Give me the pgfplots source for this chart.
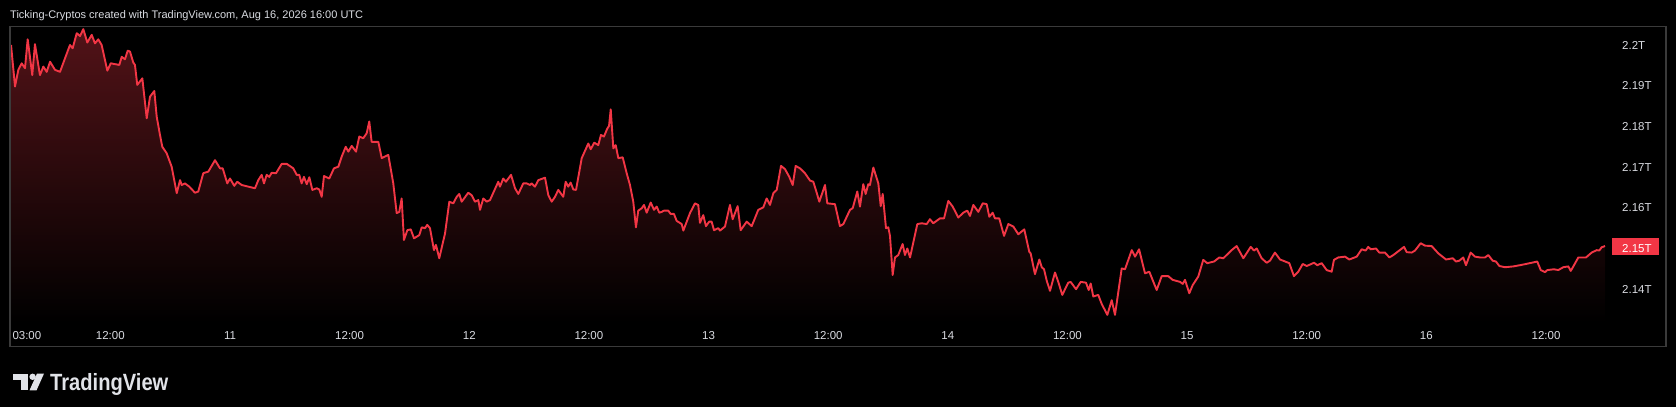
\documentclass[border=0pt]{standalone}
\usepackage{fontspec}
\setmainfont{Liberation Sans}
\usepackage{graphicx}
\usepackage{pgfplots}
\usepackage{pgfplotstable}
\pgfplotsset{compat=1.18}

\definecolor{tvred}{HTML}{F23645}
\definecolor{tvtext}{HTML}{DADCE2}
\definecolor{tvframe}{HTML}{3A3A3A}

% hours from Aug 10 00:00 UTC, market cap in T
\pgfplotstableread{
h v
2.04 2.2000
2.44 2.1898
2.77 2.1939
3.11 2.1955
3.44 2.1943
3.71 2.2014
4.17 2.1926
4.44 2.2002
4.94 2.1926
5.28 2.1947
5.62 2.1934
5.95 2.1959
6.45 2.1939
6.95 2.1934
7.45 2.1967
7.95 2.2000
8.22 2.1992
8.63 2.2029
8.96 2.2022
9.29 2.2039
9.69 2.2006
10.13 2.2025
10.46 2.2004
10.79 2.2014
11.13 2.2000
11.70 2.1937
12.04 2.1955
12.90 2.1951
13.14 2.1971
13.47 2.1965
13.74 2.1986
13.97 2.1984
14.30 2.1957
14.47 2.1951
14.70 2.1902
15.21 2.1918
15.65 2.1820
15.98 2.1873
16.41 2.1887
16.65 2.1824
16.98 2.1779
17.21 2.1750
17.65 2.1734
18.15 2.1701
18.66 2.1636
18.99 2.1668
19.16 2.1656
19.49 2.1660
19.92 2.1652
20.49 2.1637
20.82 2.1640
21.32 2.1685
21.83 2.1689
22.50 2.1717
23.00 2.1697
23.27 2.1697
23.73 2.1660
24.00 2.1672
24.43 2.1654
24.73 2.1664
25.18 2.1656
25.84 2.1652
26.51 2.1648
26.84 2.1668
27.18 2.1681
27.41 2.1660
27.68 2.1681
27.94 2.1676
28.18 2.1686
28.62 2.1685
29.19 2.1708
29.69 2.1708
30.35 2.1697
30.69 2.1681
30.95 2.1681
31.19 2.1660
31.42 2.1676
31.70 2.1658
31.96 2.1675
32.26 2.1644
32.70 2.1648
32.96 2.1645
33.20 2.1627
33.43 2.1678
33.96 2.1672
34.43 2.1697
34.87 2.1701
35.21 2.1726
35.61 2.1750
35.87 2.1738
36.21 2.1752
36.64 2.1738
36.97 2.1775
37.37 2.1771
37.71 2.1783
37.97 2.1812
38.21 2.1762
38.88 2.1762
39.22 2.1722
39.88 2.1730
40.38 2.1660
40.72 2.1587
40.98 2.1590
41.22 2.1623
41.45 2.1521
41.79 2.1545
42.13 2.1547
42.46 2.1525
42.99 2.1533
43.23 2.1552
43.56 2.1550
43.79 2.1558
44.06 2.1550
44.46 2.1496
44.66 2.1509
44.99 2.1476
45.57 2.1537
46.00 2.1615
46.40 2.1611
46.74 2.1627
47.00 2.1634
47.24 2.1615
47.90 2.1637
48.24 2.1631
48.57 2.1615
48.91 2.1619
49.08 2.1595
49.41 2.1623
49.75 2.1615
50.08 2.1619
50.91 2.1664
51.08 2.1652
51.41 2.1672
51.68 2.1664
52.19 2.1681
52.59 2.1648
52.92 2.1634
53.42 2.1660
53.76 2.1660
54.09 2.1656
54.26 2.1660
54.59 2.1652
54.93 2.1668
55.60 2.1674
55.93 2.1631
56.27 2.1615
56.60 2.1627
56.93 2.1644
57.43 2.1627
57.67 2.1664
57.93 2.1652
58.17 2.1662
58.44 2.1645
58.71 2.1644
59.28 2.1722
59.94 2.1758
60.18 2.1744
60.54 2.1760
60.94 2.1754
61.21 2.1779
61.51 2.1775
61.85 2.1795
62.02 2.1801
62.19 2.1842
62.45 2.1746
62.69 2.1754
62.95 2.1722
63.39 2.1724
63.79 2.1685
64.12 2.1656
64.45 2.1615
64.72 2.1552
64.95 2.1593
65.30 2.1599
65.53 2.1607
65.80 2.1588
66.20 2.1613
66.53 2.1595
66.80 2.1603
67.06 2.1588
67.30 2.1590
67.53 2.1593
67.96 2.1593
68.20 2.1585
68.53 2.1585
68.80 2.1568
69.31 2.1560
69.47 2.1544
70.14 2.1587
70.64 2.1611
70.97 2.1607
71.14 2.1563
71.47 2.1582
71.74 2.1555
72.07 2.1566
72.31 2.1566
72.55 2.1545
72.98 2.1550
73.15 2.1544
73.65 2.1554
74.15 2.1607
74.42 2.1572
74.92 2.1604
75.22 2.1545
75.83 2.1566
76.33 2.1555
76.99 2.1595
77.49 2.1601
77.83 2.1623
78.16 2.1607
78.50 2.1636
78.84 2.1644
79.27 2.1703
79.67 2.1695
80.10 2.1676
80.44 2.1656
80.74 2.1703
81.17 2.1697
81.67 2.1685
82.18 2.1667
82.51 2.1664
82.85 2.1637
83.11 2.1615
83.68 2.1656
83.91 2.1611
84.68 2.1609
85.18 2.1555
85.52 2.1560
86.19 2.1595
86.46 2.1599
86.92 2.1640
87.19 2.1603
87.52 2.1658
87.76 2.1634
88.02 2.1658
88.19 2.1656
88.53 2.1699
89.03 2.1660
89.27 2.1604
89.47 2.1634
89.80 2.1550
90.03 2.1552
90.20 2.1531
90.47 2.1435
90.70 2.1478
91.03 2.1484
91.47 2.1511
91.70 2.1484
91.94 2.1500
92.21 2.1478
92.94 2.1560
93.38 2.1562
93.88 2.1560
94.21 2.1572
94.54 2.1562
95.21 2.1574
95.62 2.1574
96.05 2.1617
96.49 2.1603
97.05 2.1576
97.55 2.1588
97.95 2.1593
98.22 2.1580
98.56 2.1607
99.06 2.1590
99.50 2.1611
99.90 2.1609
100.16 2.1578
100.50 2.1588
100.73 2.1574
101.16 2.1574
101.64 2.1531
102.07 2.1560
102.57 2.1554
103.07 2.1535
103.67 2.1547
104.17 2.1492
104.31 2.1488
104.74 2.1437
105.18 2.1473
105.42 2.1454
105.65 2.1449
105.92 2.1421
106.25 2.1396
106.75 2.1441
107.08 2.1418
107.48 2.1386
108.08 2.1416
108.32 2.1418
108.86 2.1400
109.33 2.1418
109.86 2.1416
110.13 2.1398
110.33 2.1414
110.59 2.1382
111.09 2.1386
111.43 2.1364
112.00 2.1337
112.44 2.1373
112.77 2.1337
113.44 2.1451
113.77 2.1449
114.45 2.1496
114.78 2.1480
115.18 2.1498
115.78 2.1439
116.21 2.1443
116.95 2.1398
117.45 2.1432
118.12 2.1432
118.55 2.1423
119.29 2.1418
119.56 2.1413
119.79 2.1423
120.22 2.1390
120.56 2.1410
121.12 2.1431
121.62 2.1472
122.02 2.1464
122.70 2.1468
123.23 2.1478
123.63 2.1476
124.47 2.1496
124.97 2.1506
125.64 2.1476
126.38 2.1504
126.71 2.1495
126.98 2.1500
127.48 2.1476
127.98 2.1465
128.31 2.1470
128.81 2.1490
129.32 2.1473
130.25 2.1464
130.72 2.1432
131.15 2.1443
131.60 2.1462
132.00 2.1457
132.73 2.1465
133.06 2.1459
133.50 2.1464
134.00 2.1447
134.50 2.1443
134.73 2.1472
135.16 2.1478
135.84 2.1480
136.27 2.1473
137.01 2.1480
137.51 2.1498
137.91 2.1495
138.17 2.1504
138.42 2.1498
138.95 2.1500
139.28 2.1490
139.85 2.1490
140.29 2.1478
140.69 2.1484
141.76 2.1504
142.03 2.1491
142.53 2.1490
142.86 2.1495
143.43 2.1513
143.86 2.1507
144.53 2.1506
145.20 2.1488
145.97 2.1473
146.64 2.1476
146.97 2.1468
147.30 2.1470
147.70 2.1478
147.97 2.1459
148.44 2.1490
148.88 2.1480
149.38 2.1478
149.88 2.1478
150.21 2.1484
150.65 2.1470
150.98 2.1468
151.32 2.1457
151.89 2.1454
152.72 2.1456
153.39 2.1459
153.99 2.1462
154.56 2.1465
155.12 2.1468
155.47 2.1447
155.90 2.1442
156.13 2.1447
156.80 2.1449
157.23 2.1447
157.73 2.1454
158.24 2.1456
158.48 2.1445
158.74 2.1456
159.24 2.1478
160.01 2.1478
160.58 2.1490
161.08 2.1496
161.34 2.1495
161.58 2.1503
161.92 2.1506
}\capdata

\begin{document}
\begin{tikzpicture}[x=1bp, y=1bp, font=\fontsize{11.5bp}{13bp}\selectfont]
  % page
  \fill[black] (0,0) rectangle (1676,407);
  % title
  \node[anchor=base west, inner sep=0, text=tvtext, font=\fontsize{11bp}{13bp}\selectfont]
    at (10,388.7) {Ticking-Cryptos created with TradingView.com, Aug 16, 2026 16:00 UTC};
  % last price box
  \fill[tvred] (1611.7,152) rectangle (1659.3,169);
  \begin{axis}[
      at={(10bp,85bp)}, anchor=south west,
      scale only axis, width=1600bp, height=295bp,
      xmin=1.936, xmax=162.42,
      ymin=2.131941, ymax=2.204423,
      axis line style={draw=none},
      major tick length=0pt,
      xtick={3,12,24,36,48,60,72,84,96,108,120,132,144,156},
      xticklabels={\makebox[0pt][l]{\hspace*{-8.1bp}03:00},12:00,11,12:00,12,12:00,13,12:00,14,12:00,15,12:00,16,12:00},
      xticklabel style={anchor=base, yshift=-17.6bp, inner sep=0pt, text=tvtext},
      ytick={2.14,2.16,2.17,2.18,2.19,2.2},
      yticklabels={2.14T,2.16T,2.17T,2.18T,2.19T,2.2T},
      extra y ticks={2.15},
      extra y tick labels={2.15T},
      extra y tick style={yticklabel style={text=white}},
      yticklabel pos=right,
      yticklabel style={anchor=west, xshift=12bp, inner sep=0pt, text=tvtext},
      clip=false,
    ]
    \addplot[draw=none, top color=tvred!34!black, bottom color=black]
      table[x=h, y=v] {\capdata} \closedcycle;
    \addplot[tvred, line width=1.9bp, line join=round, mark=none]
      table[x=h, y=v] {\capdata};
  \end{axis}
  % frame
  \draw[tvframe, line width=1.3bp] (10,60.3) rectangle (1666,380.3);
  % TradingView logo
  \fill[tvtext!80!white] (12.5,27.4) rectangle (27.9,33.4);
  \fill[tvtext!80!white] (20.5,16.6) rectangle (27.9,33.4);
  \fill[tvtext!80!white] (32.6,30.2) circle (3.2);
  \fill[tvtext!80!white] (37,33.4) -- (44,33.4) -- (36.5,16.6) -- (29.5,16.6) -- cycle;
  \node[anchor=base west, inner sep=0, text=tvtext!80!white, font=\fontsize{23.5bp}{26bp}\selectfont\bfseries]
    at (50,16.6) {\scalebox{0.856}[1]{TradingView}};
\end{tikzpicture}
\end{document}
